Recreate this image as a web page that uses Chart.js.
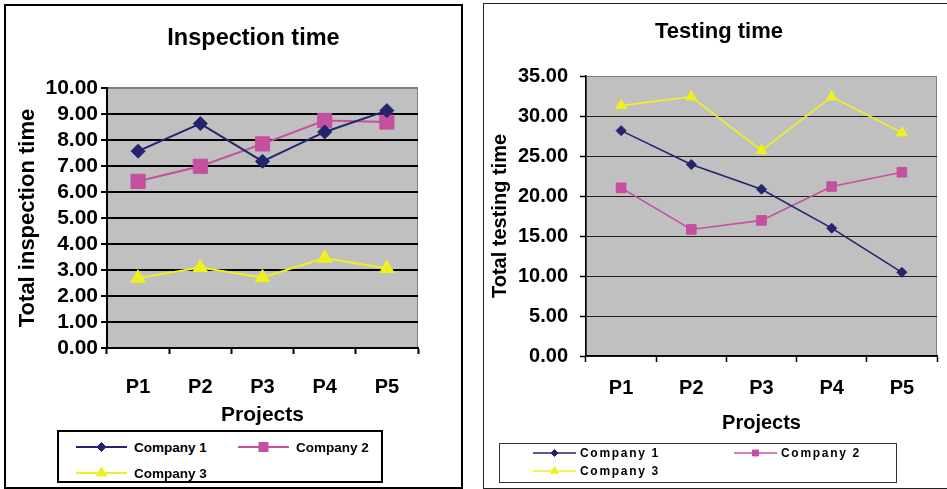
<!DOCTYPE html>
<html>
<head>
<meta charset="utf-8">
<script src="https://cdn.jsdelivr.net/npm/chart.js@4.4.1/dist/chart.umd.min.js"></script>
<style>
    html, body { margin: 0; padding: 0; background: #fff; overflow: hidden; }
    body { width: 947px; height: 489px; position: relative; font-family: "Liberation Sans", Arial, sans-serif; }
    .panel { position: absolute; box-sizing: border-box; background: #fff; }
    #panelA { left: 4px; top: 4px; width: 459px; height: 485px; border: 2px solid #000; }
    #panelB { left: 483px; top: 3px; width: 480px; height: 486px; border: 1.5px solid #222; }
    canvas.chart { position: absolute; }
    #inspectionChart { left: 7px; top: 7px; }
    #testingChart { left: 485px; top: 5px; }
    .legend { position: absolute; box-sizing: border-box; background: #fff; display: grid; font-weight: bold; color: #000; }
    #legendA { left: 57px; top: 430px; width: 326px; height: 53px; border: 2px solid #000;
               grid-template-columns: 162px auto; grid-auto-rows: 26px; padding: 2px 0 0 17px; font-size: 13.5px; }
    #legendB { left: 499px; top: 443px; width: 398px; height: 40px; border: 1.5px solid #333;
               grid-template-columns: 201px auto; grid-auto-rows: 18px; padding: 0 0 0 33px; font-size: 12px; letter-spacing: 1.7px; }
    .legend .item { display: flex; align-items: center; white-space: nowrap; }
</style>
</head>
<body>
<div class="panel" id="panelA"></div>
<div class="panel" id="panelB"></div>
<canvas class="chart" id="inspectionChart" width="453" height="479"></canvas>
<canvas class="chart" id="testingChart" width="462" height="481"></canvas>
<div class="legend" id="legendA"></div>
<div class="legend" id="legendB"></div>

<script type="text/javascript">
    const projects = ['P1', 'P2', 'P3', 'P4', 'P5'];
    const companies = ['Company 1', 'Company 2', 'Company 3'];

    // Inspection time (left chart)
    const inspectionC1 = [7.57, 8.63, 7.18, 8.31, 9.13];
    const inspectionC2 = [6.41, 6.99, 7.85, 8.75, 8.69];
    const inspectionC3 = [2.69, 3.10, 2.71, 3.46, 3.06];

    // Testing time (right chart)
    const testingC1 = [28.17, 23.93, 20.85, 15.98, 10.46];
    const testingC2 = [21.02, 15.82, 16.95, 21.18, 22.97];
    const testingC3 = [31.3, 32.4, 25.7, 32.4, 27.9];

    const colors = ['#23236E', '#C4509F', '#F0F01E'];
    const pointStyles = ['rectRot', 'rect', 'triangle'];
    const FONT = '"Liberation Sans", Arial, sans-serif';

    // grey plot area like the old excel charts
    const plotBackground = {
        id: 'plotBackground',
        beforeDraw(chart, args, opts) {
            const {ctx, chartArea: a} = chart;
            ctx.save();
            ctx.fillStyle = opts.color;
            ctx.fillRect(a.left, a.top, a.width, a.height);
            ctx.strokeStyle = opts.edge;
            ctx.lineWidth = 1;
            ctx.strokeRect(a.left + 0.5, a.top + 0.5, a.width - 1, a.height - 1);
            ctx.restore();
        }
    };

    // nudge the chart title sideways
    const titleShift = {
        id: 'titleShift',
        afterLayout(chart, args, opts) {
            const t = chart.titleBlock;
            if (t && opts.dx) {
                t.left += opts.dx;
                t.right += opts.dx;
            }
        }
    };

    function buildChart(id, cfg) {
        const datasets = cfg.series.map((values, i) => ({
            label: companies[i],
            data: values,
            borderColor: colors[i],
            backgroundColor: colors[i],
            pointBackgroundColor: colors[i],
            pointBorderColor: colors[i],
            pointStyle: pointStyles[i],
            pointRadius: cfg.pointRadius[i],
            pointHoverRadius: cfg.pointRadius[i],
            pointBorderWidth: 1,
            borderWidth: cfg.lineWidth,
            tension: 0,
            fill: false
        }));

        return new Chart(document.getElementById(id), {
            type: 'line',
            data: { labels: projects, datasets: datasets },
            options: {
                responsive: false,
                animation: false,
                layout: { padding: cfg.padding },
                plugins: {
                    legend: { display: false },
                    tooltip: { enabled: false },
                    title: {
                        display: true,
                        text: cfg.title,
                        color: '#000',
                        font: { family: FONT, size: cfg.titleSize, weight: 'bold' },
                        padding: cfg.titlePadding
                    },
                    titleShift: { dx: cfg.titleDx },
                    plotBackground: { color: '#C0C0C0', edge: '#808080' }
                },
                scales: {
                    x: {
                        offset: true,
                        grid: {
                            offset: true,
                            drawOnChartArea: false,
                            tickLength: 6,
                            tickColor: '#000',
                            tickWidth: cfg.axisWidth,
                            color: '#000'
                        },
                        border: { color: '#000', width: cfg.axisWidth },
                        ticks: {
                            color: '#000',
                            padding: cfg.xTickPad,
                            font: { family: FONT, size: 20, weight: 'bold' }
                        },
                        title: {
                            display: true,
                            text: 'Projects',
                            color: '#000',
                            font: { family: FONT, size: cfg.xTitleSize, weight: 'bold' },
                            padding: { top: 0, bottom: 0 }
                        },
                        afterFit: (s) => { s.height = cfg.xHeight; }
                    },
                    y: {
                        min: 0,
                        max: cfg.yMax,
                        ticks: {
                            stepSize: cfg.yStep,
                            autoSkip: false,
                            color: '#000',
                            padding: cfg.yTickPad,
                            font: { family: FONT, size: cfg.yTickSize, weight: 'bold' },
                            callback: (v) => v.toFixed(2)
                        },
                        grid: {
                            color: (c) => (c.tick && c.tick.value === cfg.yMax) ? '#808080' : cfg.gridColor,
                            lineWidth: cfg.gridWidth,
                            tickLength: 6,
                            tickColor: '#000',
                            tickWidth: cfg.axisWidth
                        },
                        border: { color: '#000', width: cfg.axisWidth },
                        title: {
                            display: true,
                            text: cfg.yTitle,
                            color: '#000',
                            font: { family: FONT, size: cfg.yTitleSize, weight: 'bold' },
                            padding: { top: cfg.yTitlePad, bottom: 0 }
                        },
                        afterFit: (s) => { s.width = cfg.yWidth; }
                    }
                }
            },
            plugins: [plotBackground, titleShift]
        });
    }

    function buildLegend(chart, el, cfg) {
        chart.data.datasets.forEach((ds, i) => {
            const item = document.createElement('div');
            item.className = 'item';
            const icon = document.createElement('canvas');
            icon.width = cfg.iconWidth;
            icon.height = cfg.iconHeight;
            icon.style.marginRight = cfg.gap + 'px';
            const c = icon.getContext('2d');
            c.strokeStyle = ds.borderColor;
            c.fillStyle = ds.borderColor;
            c.lineWidth = cfg.lineWidth;
            c.beginPath();
            c.moveTo(0, cfg.iconHeight / 2);
            c.lineTo(cfg.iconWidth, cfg.iconHeight / 2);
            c.stroke();
            c.lineWidth = 1;
            Chart.helpers.drawPoint(c, {
                pointStyle: ds.pointStyle,
                radius: cfg.radius[i],
                borderWidth: 1,
                rotation: 0
            }, cfg.iconWidth / 2, cfg.iconHeight / 2);
            const label = document.createElement('span');
            label.textContent = ds.label;
            item.append(icon, label);
            el.append(item);
        });
    }

    const inspectionChart = buildChart('inspectionChart', {
        title: 'Inspection time',
        titleSize: 23.5,
        titleDx: 41,
        titlePadding: { top: 17, bottom: 35.8 },
        padding: { top: 0, left: 0, right: 42, bottom: 58 },
        series: [inspectionC1, inspectionC2, inspectionC3],
        pointRadius: [7, 10, 8.3],
        lineWidth: 2,
        axisWidth: 2,
        gridColor: '#000',
        gridWidth: 2,
        yMax: 10,
        yStep: 1,
        yWidth: 100,
        yTickPad: 3,
        yTickSize: 21,
        yTitle: 'Total inspection time',
        yTitleSize: 22,
        yTitlePad: 8,
        xHeight: 80,
        xTickPad: 21,
        xTitleSize: 21
    });

    const testingChart = buildChart('testingChart', {
        title: 'Testing time',
        titleSize: 22,
        titleDx: 8,
        titlePadding: { top: 14, bottom: 30.6 },
        padding: { top: 0, left: 0, right: 10, bottom: 51 },
        series: [testingC1, testingC2, testingC3],
        pointRadius: [5, 6.8, 6.2],
        lineWidth: 1.6,
        axisWidth: 1.5,
        gridColor: '#202020',
        gridWidth: 1,
        yMax: 35,
        yStep: 5,
        yWidth: 101,
        yTickPad: 12,
        yTickSize: 20,
        yTitle: 'Total testing time',
        yTitleSize: 20,
        yTitlePad: 3,
        xHeight: 79,
        xTickPad: 14,
        xTitleSize: 20
    });

    buildLegend(inspectionChart, document.getElementById('legendA'), {
        iconWidth: 51, iconHeight: 26, gap: 7, lineWidth: 2, radius: [4.5, 6.4, 6]
    });
    buildLegend(testingChart, document.getElementById('legendB'), {
        iconWidth: 43, iconHeight: 18, gap: 4, lineWidth: 1.5, radius: [3.5, 4.2, 4.5]
    });
</script>
</body>
</html>
